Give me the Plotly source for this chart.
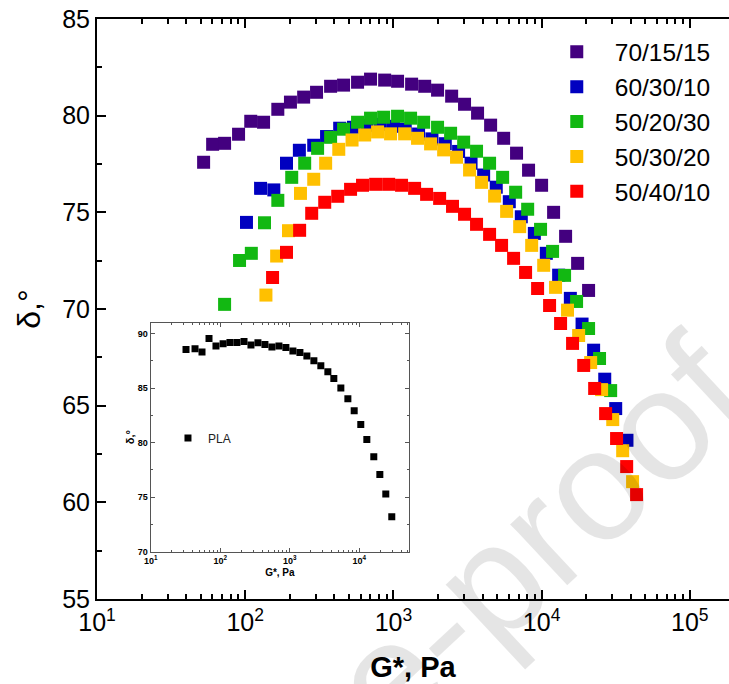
import plotly.graph_objects as go

FONT = "Liberation Sans, Arial, sans-serif"

# ---- data ----
series_names = ["70/15/15", "60/30/10", "50/20/30", "50/30/20", "50/40/10"]
series_colors = ["#43007F", "#0000C0", "#12B812", "#FFC000", "#FF0000"]

g_70_15_15 = [52.4, 60.3, 72.6, 90.2, 109, 133, 166, 202, 248, 303, 377, 461, 573, 701, 873,
              1067, 1327, 1626, 1986, 2472, 3020, 3698, 4529, 5546, 6776, 8166, 10000, 12050,
              14520, 17500, 20750]
d_70_15_15 = [77.59, 78.52, 78.57, 79.04, 79.71, 79.66, 80.33, 80.70, 80.96, 81.21, 81.52, 81.58,
              81.73, 81.89, 81.84, 81.78, 81.63, 81.52, 81.32, 81.01, 80.59, 80.13, 79.51, 78.83,
              78.06, 77.18, 76.40, 75.00, 73.76, 72.36, 70.96]

g_60_30_10 = [102, 127, 156, 190, 232, 290, 354, 434, 538, 664, 817, 1000, 1202, 1479, 1820, 2239,
              2754, 3342, 4064, 4943, 6053, 7295, 8933, 10760, 13030, 15630, 18750, 22440, 26670,
              31620, 37670]
d_60_30_10 = [74.48, 76.24, 76.16, 77.54, 78.21, 78.47, 78.92, 79.35, 79.40, 79.50, 79.55, 79.45,
              79.30, 79.05, 78.80, 78.55, 78.15, 77.54, 76.93, 76.30, 75.55, 74.77, 73.91, 72.88,
              71.75, 70.55, 69.22, 67.87, 66.37, 64.85, 63.21]

g_50_20_30 = [72.6, 91.6, 110, 135, 166, 206, 252, 308, 377, 461, 573, 701, 859, 1067, 1306, 1600,
              1986, 2432, 2979, 3639, 4457, 5458, 6683, 8054, 9840, 11860, 14290, 17220, 20750,
              24600, 29240]
d_50_20_30 = [70.24, 72.51, 72.88, 74.46, 75.62, 76.81, 77.54, 78.31, 78.88, 79.30, 79.66, 79.87,
              79.92, 79.97, 79.87, 79.66, 79.40, 79.09, 78.63, 78.16, 77.54, 76.81, 76.04, 75.16,
              74.12, 72.98, 71.74, 70.39, 68.99, 67.44, 65.78]

g_50_30_20 = [138, 163, 196, 236, 290, 349, 428, 526, 640, 782, 957, 1191, 1455, 1782, 2183, 2667,
              3266, 3936, 4819, 5808, 7112, 8570, 10330, 12420, 14960, 17780, 21430, 25410, 30200,
              35240, 41110]
d_50_30_20 = [70.72, 72.74, 74.05, 75.98, 76.71, 77.54, 78.26, 78.74, 79.00, 79.16, 79.06, 79.06,
              78.83, 78.54, 78.23, 77.85, 77.19, 76.55, 75.84, 75.05, 74.26, 73.29, 72.26, 71.12,
              69.94, 68.63, 67.23, 65.83, 64.28, 62.67, 61.07]

g_50_40_10 = [153, 190, 233, 281, 344, 421, 514, 619, 759, 929, 1135, 1390, 1675, 2051, 2506, 3020,
              3639, 4457, 5370, 6471, 7798, 9397, 11320, 13430, 16180, 19230, 22800, 27040, 32060,
              37500, 43750]
d_50_40_10 = [71.63, 72.93, 74.07, 74.95, 75.52, 75.83, 76.19, 76.40, 76.45, 76.45, 76.40, 76.24,
              75.93, 75.72, 75.31, 74.90, 74.38, 73.86, 73.29, 72.62, 71.89, 71.06, 70.18, 69.25,
              68.22, 67.08, 65.89, 64.59, 63.30, 61.85, 60.40]

g_pla = [32.2, 43.4, 54.7, 69.0, 86.9, 110, 138, 174, 220, 277, 349, 440, 555, 700, 881, 1112,
         1403, 1766, 2228, 2805, 3540, 4315, 5445, 6871, 8472, 10540, 12880, 16220, 19820, 24150,
         29440]
d_pla = [88.53, 88.60, 88.32, 89.54, 88.87, 89.08, 89.18, 89.18, 89.27, 88.96, 89.15, 88.99, 88.78,
         88.87, 88.72, 88.41, 88.26, 87.95, 87.50, 87.04, 86.49, 85.88, 85.02, 84.02, 82.92, 81.66,
         80.29, 78.70, 77.08, 75.28, 73.21]

main_xtick_vals = [10, 100, 1000, 10000, 100000]
main_xtick_text = ["10<sup>1</sup>", "10<sup>2</sup>", "10<sup>3</sup>", "10<sup>4</sup>", "10<sup>5</sup>"]
inset_xtick_vals = [10, 100, 1000, 10000]
inset_xtick_text = ["10<sup>1</sup>", "10<sup>2</sup>", "10<sup>3</sup>", "10<sup>4</sup>"]

series_g = [g_70_15_15, g_60_30_10, g_50_20_30, g_50_30_20, g_50_40_10]
series_d = [d_70_15_15, d_60_30_10, d_50_20_30, d_50_30_20, d_50_40_10]

fig = go.Figure()
for name, col, gx, dy in zip(series_names, series_colors, series_g, series_d):
    fig.add_trace(go.Scatter(x=gx, y=dy, mode="markers", name=name,
                             marker=dict(symbol="square", size=13, color=col, line=dict(width=0)),
                             xaxis="x", yaxis="y", legend="legend"))

fig.add_trace(go.Scatter(x=g_pla, y=d_pla, mode="markers", name="PLA",
                         marker=dict(symbol="square", size=7, color="black", line=dict(width=0)),
                         xaxis="x2", yaxis="y2", legend="legend2"))

main_ax = dict(showline=True, linecolor="black", linewidth=2,
               ticks="inside", tickcolor="black", tickwidth=2, ticklen=9,
               showgrid=False, zeroline=False,
               tickfont=dict(family=FONT, size=25, color="black"))
main_minor = dict(ticks="inside", ticklen=5, tickwidth=1.5, tickcolor="black", showgrid=False)
inset_ax = dict(showline=True, linecolor="#555555", linewidth=1.3, mirror="ticks",
                ticks="inside", tickcolor="#555555", tickwidth=1, ticklen=4,
                showgrid=False, zeroline=False,
                tickfont=dict(family=FONT, size=9, color="black", weight="bold"))
inset_minor = dict(ticks="inside", ticklen=2, tickwidth=1, tickcolor="#555555", showgrid=False)

fig.update_layout(
    width=729, height=684,
    margin=dict(l=97, r=0, t=19, b=85),
    paper_bgcolor="white", plot_bgcolor="white",
    showlegend=True,
    xaxis=dict(main_ax, type="log", range=[1, 5.2645], tickvals=main_xtick_vals,
               ticktext=main_xtick_text, mirror="ticks",
               domain=[0, 1], anchor="y", minor=dict(main_minor, dtick="D1"),
               title=dict(text="<b>G*, Pa</b>", font=dict(family=FONT, size=29, color="black"), standoff=22)),
    yaxis=dict(main_ax, range=[55, 85], dtick=5, domain=[0, 1], anchor="x", mirror=False,
               minor=dict(main_minor, dtick=2.5),
               title=dict(text="δ,°", font=dict(family=FONT, size=32, color="black"), standoff=12)),
    yaxis3=dict(range=[55, 85], dtick=5, overlaying="y", side="right", anchor="x",
                showline=False, showgrid=False, zeroline=False, showticklabels=False,
                ticks="inside", tickcolor="black", tickwidth=2, ticklen=9,
                minor=dict(main_minor, dtick=2.5)),
    xaxis2=dict(inset_ax, type="log", range=[1, 4.717], tickvals=inset_xtick_vals,
                ticktext=inset_xtick_text,
                domain=[0.085, 0.4937], anchor="y2", minor=dict(inset_minor, dtick="D1"),
                title=dict(text="<b>G*, Pa</b>", font=dict(family=FONT, size=10, color="black"), standoff=4)),
    yaxis2=dict(inset_ax, range=[70, 91], dtick=5, domain=[0.0816, 0.4764], anchor="x2",
                minor=dict(inset_minor, dtick=2.5),
                title=dict(text="<b>δ,°</b>", font=dict(family=FONT, size=11, color="black"), standoff=0)),
    legend=dict(x=0.699, y=0.982, xanchor="left", yanchor="top", bgcolor="rgba(0,0,0,0)",
                font=dict(family=FONT, size=24.5, color="black"), itemwidth=66, tracegroupgap=0),
    legend2=dict(x=0.1123, y=0.2776, xanchor="left", yanchor="middle", bgcolor="rgba(0,0,0,0)",
                 font=dict(family=FONT, size=12, color="#222222")),
)

# watermark
fig.add_annotation(text="Journal Pre-proof", xref="paper", yref="paper", x=0.281, y=-0.317,
                   xanchor="center", yanchor="middle", showarrow=False, textangle=-43,
                   font=dict(family=FONT, size=158, color="rgba(0,0,0,0.1)"))

fig.write_html("out.html")
